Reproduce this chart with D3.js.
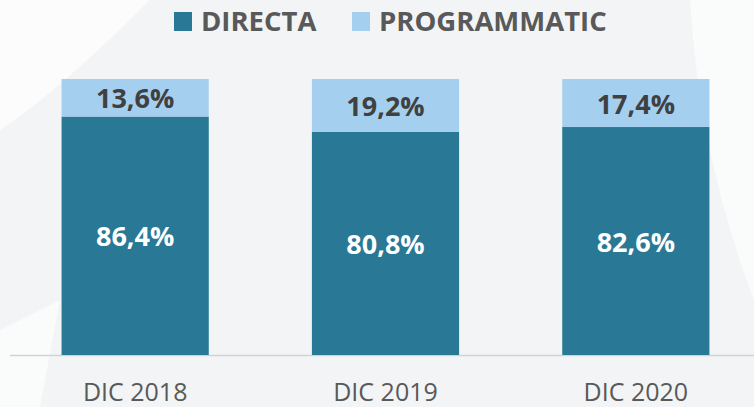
<!DOCTYPE html>
<html>
<head>
<meta charset="utf-8">
<script src="https://cdn.jsdelivr.net/npm/d3@7"></script>
<style>
  body { margin: 0; background: #f3f4f6; }
  svg { display: block; font-family: "Open Sans", "Noto Sans", sans-serif; }
</style>
</head>
<body>
<script>
const svgWidth = 754,
    svgHeight = 407;

// data
const categories = ["DIC 2018", "DIC 2019", "DIC 2020"];
const series = ["DIRECTA", "PROGRAMMATIC"];
const directa = [86.4, 80.8, 82.6];
const programmatic = [13.6, 19.2, 17.4];
const colors = ["#287896", "#a4cfee"];

const svg = d3.select("body").append("svg")
    .attr("width", svgWidth)
    .attr("height", svgHeight);

// faint watermark shapes in the background
svg.append("rect").attr("width", svgWidth).attr("height", svgHeight).attr("fill", "#f3f4f6");
svg.append("path").attr("d", "M0,0 L150,0 Q60,90 0,130 Z").attr("fill", "#fff").attr("opacity", 0.7);
svg.append("path").attr("d", "M0,330 L60,300 L40,407 L0,407 Z").attr("fill", "#fff").attr("opacity", 0.6);
svg.append("path").attr("d", "M754,0 L754,300 Q700,160 690,0 Z").attr("fill", "#fff").attr("opacity", 0.6);

const x = d3.scaleBand()
    .domain(categories)
    .range([10, 761])
    .paddingInner(0.412)
    .paddingOuter(0.206);

const y = d3.scaleLinear()
    .domain([0, 100])
    .range([355, 79]);

const rows = categories.map(function (c, i) {
    return { cat: c, DIRECTA: directa[i], PROGRAMMATIC: programmatic[i] };
});
const stacked = d3.stack().keys(series)(rows);

// baseline
svg.append("line")
    .attr("x1", 10).attr("x2", svgWidth)
    .attr("y1", y(0) + 0.5).attr("y2", y(0) + 0.5)
    .attr("stroke", "#d0d2d6").attr("stroke-width", 1.5);

const layers = svg.selectAll("g.layer")
    .data(stacked).enter()
    .append("g")
    .attr("class", "layer")
    .attr("fill", function (d, i) { return colors[i]; });

layers.selectAll("rect")
    .data(function (d) { return d; })
    .enter().append("rect")
    .attr("x", function (d) { return x(d.data.cat); })
    .attr("width", x.bandwidth())
    .attr("y", function (d) { return y(d[1]); })
    .attr("height", function (d) { return y(d[0]) - y(d[1]); });

// value labels
layers.each(function (layer, li) {
    d3.select(this).selectAll("text")
        .data(layer)
        .enter().append("text")
        .attr("x", function (d) { return x(d.data.cat) + x.bandwidth() / 2; })
        .attr("y", function (d) { return (y(d[0]) + y(d[1])) / 2 + 1; })
        .attr("dy", "0.36em")
        .attr("text-anchor", "middle")
        .attr("font-weight", "bold")
        .attr("font-size", 27)
        .attr("fill", li === 0 ? "#ffffff" : "#404040")
        .text(function (d) { return (d[1] - d[0]).toFixed(1).replace(".", ",") + "%"; });
});

// category axis
const xAxis = svg.append("g")
    .attr("transform", "translate(0," + y(0) + ")")
    .call(d3.axisBottom(x).tickSize(0).tickPadding(28));
xAxis.select(".domain").remove();
xAxis.selectAll("text")
    .attr("font-family", "\"Open Sans\", sans-serif")
    .attr("font-size", 25)
    .attr("fill", "#595959");

// legend
const legendX = [174, 352];
const legend = svg.selectAll("g.legend")
    .data(series).enter()
    .append("g")
    .attr("class", "legend")
    .attr("transform", function (d, i) { return "translate(" + legendX[i] + ",12)"; });
legend.append("rect")
    .attr("width", 18).attr("height", 19)
    .attr("fill", function (d, i) { return colors[i]; });
legend.append("text")
    .attr("x", 27).attr("y", 9.5)
    .attr("dy", "0.36em")
    .attr("font-size", 27.5)
    .attr("font-weight", "bold")
    .attr("fill", "#595959")
    .text(function (d) { return d; });
</script>
</body>
</html>
